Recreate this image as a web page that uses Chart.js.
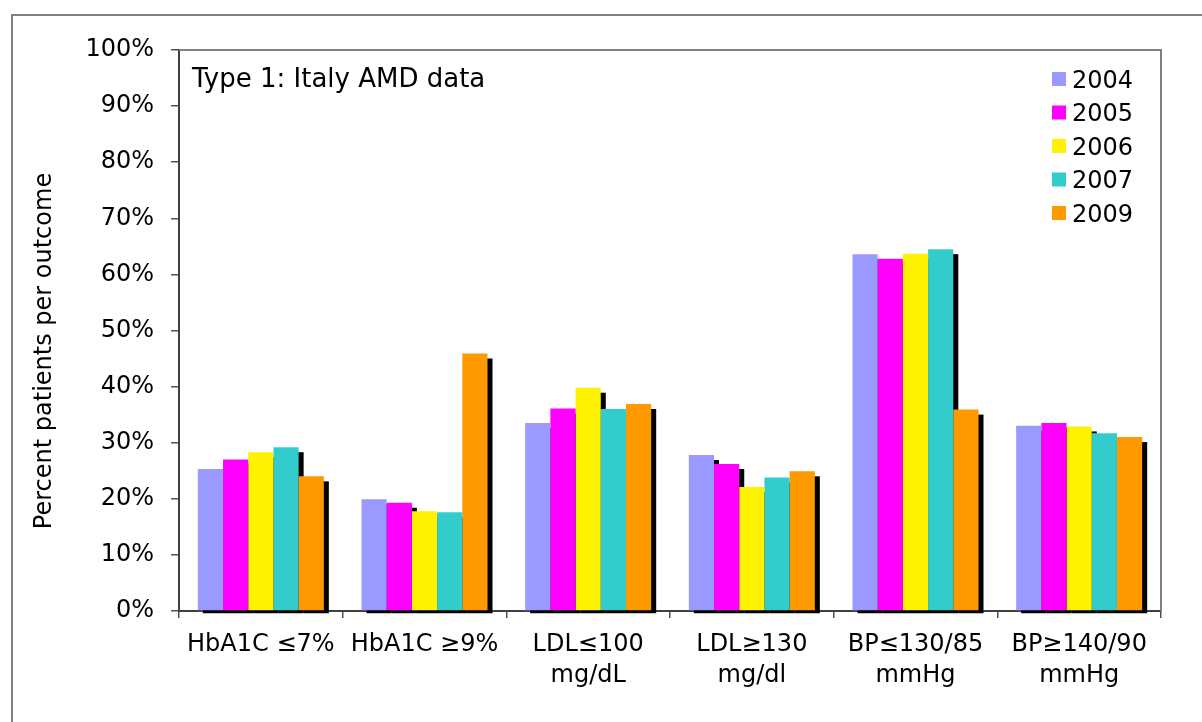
<!DOCTYPE html>
<html>
<head>
<meta charset="utf-8">
<script src="https://cdn.jsdelivr.net/npm/chart.js@4.4.1/dist/chart.umd.min.js"></script>
<style>
  html, body { margin: 0; padding: 0; background: #ffffff; }
  canvas { display: block; }
</style>
</head>
<body>
<canvas id="c" width="1202" height="722"></canvas>
<script>
const categories = [
  ["HbA1C ≤7%"],
  ["HbA1C ≥9%"],
  ["LDL≤100", "mg/dL"],
  ["LDL≥130", "mg/dl"],
  ["BP≤130/85", "mmHg"],
  ["BP≥140/90", "mmHg"]
];
const seriesNames = ["2004", "2005", "2006", "2007", "2009"];
const v2004 = [25.3, 19.9, 33.5, 27.8, 63.6, 33.0];
const v2005 = [27.0, 19.3, 36.1, 26.2, 62.8, 33.5];
const v2006 = [28.3, 17.8, 39.8, 22.1, 63.7, 32.9];
const v2007 = [29.2, 17.6, 36.0, 23.8, 64.5, 31.7];
const v2009 = [24.0, 45.9, 36.9, 24.9, 35.9, 31.0];
const seriesColors = ["#9999FF", "#FF00FF", "#FFF200", "#33CCCC", "#FF9900"];
const chartTitle = "Type 1: Italy AMD data";
const yAxisTitle = "Percent patients per outcome";

const FONT = "'DejaVu Sans', Verdana, sans-serif";
const allValues = [v2004, v2005, v2006, v2007, v2009];

const datasets = seriesNames.map((name, i) => ({
  label: name,
  data: allValues[i],
  backgroundColor: seriesColors[i],
  borderWidth: 0,
  categoryPercentage: 0.77,
  barPercentage: 1.0
}));

const decorPlugin = {
  id: 'decor',
  beforeDraw(chart) {
    const ctx = chart.ctx;
    ctx.save();
    ctx.fillStyle = '#ffffff';
    ctx.fillRect(0, 0, chart.width, chart.height);
    // outer frame
    ctx.strokeStyle = '#808080';
    ctx.lineWidth = 2;
    ctx.strokeRect(12, 15, 1400, 900);
    ctx.restore();
  },
  beforeDatasetsDraw(chart) {
    const ctx = chart.ctx;
    ctx.save();
    ctx.fillStyle = '#000000';
    chart.data.datasets.forEach((ds, di) => {
      const meta = chart.getDatasetMeta(di);
      meta.data.forEach(el => {
        const p = el.getProps(['x', 'y', 'base', 'width'], true);
        const left = p.x - p.width / 2 + 5;
        const top = p.y + 5;
        ctx.fillRect(left, top, p.width, (p.base + 3) - top);
      });
    });
    ctx.restore();
  },
  afterDraw(chart) {
    const ctx = chart.ctx;
    const a = chart.chartArea;
    ctx.save();
    // top and right plot border
    ctx.strokeStyle = '#808080';
    ctx.lineWidth = 2;
    ctx.beginPath();
    ctx.moveTo(a.left, a.top);
    ctx.lineTo(a.right, a.top);
    ctx.lineTo(a.right, a.bottom);
    ctx.stroke();
    // title inside plot
    ctx.fillStyle = '#000000';
    ctx.font = "26px " + FONT;
    ctx.textAlign = 'left';
    ctx.textBaseline = 'alphabetic';
    ctx.fillText(chartTitle, 192, 87);
    // legend
    ctx.font = "24px " + FONT;
    chart.data.datasets.forEach((ds, i) => {
      const cy = 79 + i * 33.5;
      ctx.fillStyle = ds.backgroundColor;
      ctx.fillRect(1052, cy - 7, 14, 14);
      ctx.fillStyle = '#000000';
      ctx.fillText(ds.label, 1072, cy + 8.5);
    });
    // y axis title
    ctx.translate(45, 351);
    ctx.rotate(-Math.PI / 2);
    ctx.textAlign = 'center';
    ctx.textBaseline = 'middle';
    ctx.font = "24px " + FONT;
    ctx.fillText(yAxisTitle, 0, 0);
    ctx.restore();
  }
};

new Chart(document.getElementById('c'), {
  type: 'bar',
  data: { labels: categories, datasets: datasets },
  plugins: [decorPlugin],
  options: {
    responsive: false,
    animation: false,
    devicePixelRatio: 1,
    layout: { padding: { top: 50, right: 41, left: 0, bottom: 0 } },
    plugins: {
      legend: { display: false },
      tooltip: { enabled: false },
      title: { display: false }
    },
    scales: {
      x: {
        offset: true,
        grid: {
          offset: true,
          drawOnChartArea: false,
          drawTicks: true,
          tickLength: 7,
          color: '#505050',
          lineWidth: 1.5
        },
        border: { display: true, color: '#404040', width: 2 },
        ticks: {
          color: '#000000',
          font: { family: FONT, size: 24, lineHeight: 1.3 },
          padding: 11,
          maxRotation: 0,
          autoSkip: false
        },
        afterFit(s) { s.height = 111; }
      },
      y: {
        min: 0,
        max: 100,
        grid: {
          drawOnChartArea: false,
          drawTicks: true,
          tickLength: 8,
          color: '#505050',
          lineWidth: 1.5
        },
        border: { display: true, color: '#404040', width: 2 },
        ticks: {
          stepSize: 10,
          color: '#000000',
          font: { family: FONT, size: 24 },
          padding: 17,
          callback: v => v + '%'
        },
        afterFit(s) { s.width = 179; }
      }
    }
  }
});
</script>
</body>
</html>
